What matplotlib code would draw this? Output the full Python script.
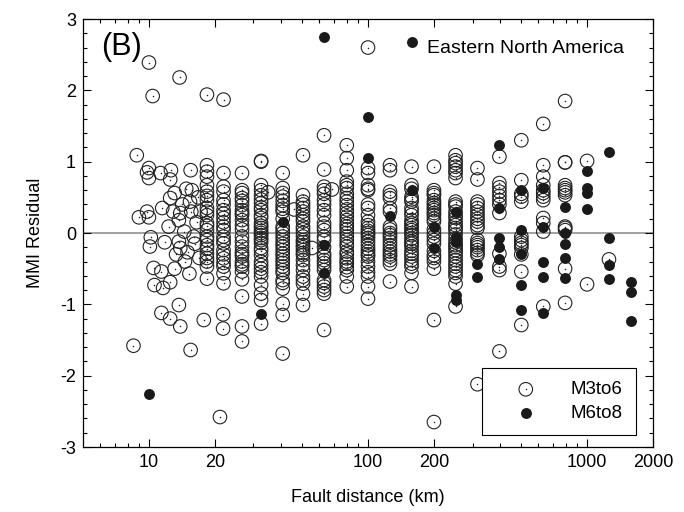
import matplotlib
matplotlib.use("Agg")
import matplotlib.pyplot as plt
from matplotlib.ticker import FixedLocator, NullFormatter, MultipleLocator
from matplotlib.legend_handler import HandlerTuple

plt.rcParams['font.family'] = ['Liberation Sans', 'DejaVu Sans']
plt.rcParams['axes.unicode_minus'] = False

# --- M3to6, near field (scattered distances) ---
nf_dist = [8.8, 8.5, 10.0, 10.4, 13.8, 18.4, 21.9, 10.0, 9.8, 10.0, 11.3, 12.6, 12.5,
           15.5, 9.0, 9.8, 10.0, 11.5, 12.5, 13.1, 12.3, 13.9, 13.7, 15.4, 15.6, 15.7,
           10.2, 10.1, 11.8, 13.7, 13.9, 16.0, 10.5, 11.4, 10.6, 11.6, 12.5, 13.1, 15.3,
           15.0, 11.4, 12.5, 13.7, 13.9, 15.5, 17.8, 21.1, 21.8, 21.8, 14.5, 16.5, 17.0,
           14.2, 14.8, 16.8, 12.9, 14.6, 16.2, 13.3, 17.2, 35.0, 68.5, 46.0, 55.5]
nf_res = [1.09, -1.58, 2.39, 1.92, 2.18, 1.94, 1.87, 0.91, 0.85, 0.77, 0.84, 0.88, 0.75,
          0.88, 0.22, 0.30, 0.22, 0.35, 0.49, 0.56, 0.09, 0.28, 0.18, 0.44, 0.30, 0.60,
          -0.06, -0.19, -0.13, -0.12, -0.21, -0.05, -0.49, -0.54, -0.73, -0.77, -0.69, -0.50, -0.57,
          -0.27, -1.12, -1.20, -1.01, -1.31, -1.64, -1.22, -2.58, -1.14, -1.34, 0.02, 0.15, -0.35,
          0.40, 0.62, 0.50, 0.30, -0.40, -0.15, -0.30, 0.30, 0.57, 0.61, 0.33, -0.21]

# --- M3to6, binned distances ---
bin_dist = [18.4, 21.9, 26.6, 32.5, 40.8, 50.5, 63, 80, 100, 126, 158, 200, 251,
            316, 398, 501, 631, 794, 1000, 1259]
m36_bins = [
    [0.95, 0.86, 0.79, 0.67, 0.58, 0.52, 0.46, 0.35, 0.30, 0.25, 0.14, 0.10, 0.04, -0.05, -0.10,
     -0.17, -0.22, -0.29, -0.35, -0.40, -0.47, -0.64],
    [0.84, 0.65, 0.58, 0.46, 0.40, 0.32, 0.27, 0.21, 0.15, 0.09, 0.04, -0.05, -0.10, -0.145, -0.24,
     -0.30, -0.355, -0.42, -0.47, -0.565, -0.705],
    [0.84, 0.60, 0.56, 0.49, 0.45, 0.39, 0.32, 0.28, 0.25, 0.18, 0.11, 0.05, -0.05, -0.12, -0.19,
     -0.26, -0.30, -0.33, -0.40, -0.44, -0.47, -0.54, -0.65, -0.89, -1.31, -1.52],
    [1.00, 1.01, 0.67, 0.60, 0.53, 0.47, 0.42, 0.36, 0.32, 0.25, 0.21, 0.14, 0.10, 0.07, 0.03, 0.00,
     -0.03, -0.07, -0.10, -0.14, -0.21, -0.25, -0.31, -0.40, -0.45, -0.50, -0.55, -0.61, -0.73,
     -0.85, -0.94, -1.27],
    [0.84, 0.63, 0.56, 0.51, 0.45, 0.39, 0.34, 0.30, 0.20, 0.09, 0.05, 0.00, -0.05, -0.10, -0.15,
     -0.19, -0.24, -0.29, -0.33, -0.38, -0.42, -0.47, -0.52, -0.56, -0.66, -0.70, -0.78, -0.99,
     -1.15, -1.69],
    [1.09, 0.53, 0.44, 0.40, 0.35, 0.30, 0.25, 0.20, 0.16, 0.09, 0.05, 0.00, -0.05, -0.10, -0.13,
     -0.17, -0.20, -0.24, -0.28, -0.31, -0.38, -0.45, -0.52, -0.61, -0.66, -0.71, -0.85, -1.01],
    [1.37, 0.89, 0.65, 0.60, 0.55, 0.46, 0.40, 0.32, 0.25, 0.14, 0.09, 0.04, -0.05, -0.10, -0.20,
     -0.29, -0.33, -0.38, -0.42, -0.47, -0.52, -0.66, -0.70, -0.75, -0.80, -0.85, -1.36],
    [1.23, 1.05, 0.88, 0.72, 0.67, 0.63, 0.55, 0.49, 0.44, 0.39, 0.33, 0.28, 0.23, 0.18, 0.13,
     0.09, 0.05, 0.00, -0.05, -0.10, -0.15, -0.19, -0.26, -0.30, -0.355, -0.40, -0.43, -0.48,
     -0.52, -0.61, -0.75],
    [2.60, 0.91, 0.84, 0.67, 0.62, 0.60, 0.40, 0.35, 0.25, 0.16, 0.11, 0.07, 0.03, 0.00, -0.03,
     -0.07, -0.12, -0.17, -0.22, -0.26, -0.30, -0.33, -0.40, -0.47, -0.55, -0.61, -0.75, -0.92],
    [0.95, 0.88, 0.58, 0.53, 0.49, 0.35, 0.30, 0.09, 0.05, 0.00, -0.03, -0.07, -0.12, -0.17,
     -0.22, -0.26, -0.30, -0.33, -0.38, -0.43, -0.68],
    [0.93, 0.67, 0.62, 0.51, 0.47, 0.44, 0.35, 0.30, 0.25, 0.18, 0.14, 0.11, 0.07, 0.04, 0.00,
     -0.03, -0.08, -0.12, -0.15, -0.19, -0.25, -0.29, -0.33, -0.38, -0.43, -0.47, -0.56, -0.75],
    [0.93, 0.60, 0.56, 0.53, 0.46, 0.42, 0.39, 0.35, 0.32, 0.28, 0.25, 0.20, 0.16, 0.05, 0.00,
     -0.05, -0.10, -0.15, -0.25, -0.31, -0.35, -0.40, -0.50, -1.22, -2.65],
    [1.09, 1.02, 0.98, 0.93, 0.88, 0.84, 0.77, 0.44, 0.40, 0.37, 0.30, 0.25, 0.21, 0.15, 0.11,
     0.07, 0.04, -0.02, -0.08, -0.13, -0.17, -0.20, -0.24, -0.28, -0.33, -0.38, -0.43, -0.47,
     -0.52, -0.56, -0.61, -0.71, -1.03],
    [0.91, 0.75, 0.44, 0.40, 0.35, 0.30, 0.25, 0.20, 0.16, 0.11, 0.07, -0.10, -0.14, -0.17,
     -0.20, -0.24, -0.28, -0.31, -2.12],
    [1.07, 0.70, 0.64, 0.58, 0.52, 0.46, 0.40, 0.28, -0.29, -0.47, -0.52, -1.66],
    [1.30, 0.74, 0.55, 0.51, 0.44, -0.05, -0.10, -0.14, -0.17, -0.21, -0.30, -0.54, -1.29],
    [1.53, 0.95, 0.79, 0.67, 0.60, 0.56, 0.51, 0.46, 0.21, 0.14, 0.02, -1.03],
    [1.85, 0.99, 0.99, 0.67, 0.63, 0.60, 0.57, 0.53, 0.09, 0.07, 0.04, -0.50, -0.98],
    [1.01, -0.72],
    [-0.37],
]

# --- M6to8 ---
m68_dist = [10, 32.5, 40.8, 63, 63, 63, 100, 100, 126, 158, 158, 200, 200,
            251, 251, 251, 251, 251, 316, 316, 398, 398, 398, 398, 398,
            501, 501, 501, 501, 501, 631, 631, 631, 631, 631,
            794, 794, 794, 794, 794, 1000, 1000, 1000, 1000,
            1259, 1259, 1259, 1259, 1585, 1585, 1585]
m68_res = [-2.25, -1.13, 0.16, 2.75, -0.17, -0.56, 1.63, 1.05, 0.24, 2.68, 0.60, 0.09, -0.21,
           0.30, -0.05, -0.12, -0.87, -0.94, -0.43, -0.61, 1.23, 0.35, -0.07, -0.19, -0.36,
           0.60, 0.04, -0.29, -0.73, -1.08, 0.63, 0.09, -0.40, -0.61, -1.12,
           0.36, 0.00, -0.15, -0.35, -0.63, 0.87, 0.63, 0.56, 0.33,
           1.13, -0.07, -0.45, -0.64, -0.68, -0.83, -1.23]

m36_dist = nf_dist + [d for d, col in zip(bin_dist, m36_bins) for _ in col]
m36_res = nf_res + [v for col in m36_bins for v in col]

fig = plt.figure(figsize=(6.84, 5.12), dpi=100)
ax = fig.add_axes([83 / 684, 1 - 447 / 512, 570 / 684, 428 / 512])

ax.axhline(0, color='#a0a0a0', lw=1.4, zorder=1)

op = ax.scatter(m36_dist, m36_res, s=95, facecolors='none', edgecolors='#222222',
                linewidths=0.8, zorder=2)
dot = ax.scatter(m36_dist, m36_res, s=1.2, c='#222222', linewidths=0, zorder=2)
fl = ax.scatter(m68_dist, m68_res, s=62, c='#1a1a1a', linewidths=0, zorder=3)

ax.set_xscale('log')
ax.set_xlim(5, 2000)
ax.set_ylim(-3, 3)

ax.xaxis.set_major_locator(FixedLocator([10, 20, 100, 200, 1000, 2000]))
ax.xaxis.set_major_formatter(plt.FuncFormatter(lambda v, p: '%d' % v))
minors = [6, 7, 8, 9, 30, 40, 50, 60, 70, 80, 90, 300, 400, 500, 600, 700, 800, 900]
ax.xaxis.set_minor_locator(FixedLocator(minors))
ax.xaxis.set_minor_formatter(NullFormatter())
ax.yaxis.set_major_locator(MultipleLocator(1))
ax.yaxis.set_minor_locator(MultipleLocator(0.2))

ax.tick_params(which='both', direction='in', top=True, right=True, width=0.8)
ax.tick_params(which='major', length=6, labelsize=13, pad=5)
ax.tick_params(which='minor', length=3)
for s in ax.spines.values():
    s.set_linewidth(0.9)

ax.set_xlabel('Fault distance (km)', fontsize=13, labelpad=13)
ax.set_ylabel('MMI Residual', fontsize=13, labelpad=12)

ax.text(0.032, 0.935, '(B)', transform=ax.transAxes, fontsize=22, va='center', ha='left')
ax.text(0.6035, 0.932, 'Eastern North America', transform=ax.transAxes, fontsize=14,
        va='center', ha='left')

leg = ax.legend([(op, dot), fl], ['M3to6', 'M6to8'], loc='lower right',
                bbox_to_anchor=(0.97, 0.028), borderaxespad=0, fontsize=13.5,
                handler_map={tuple: HandlerTuple(ndivide=1)},
                fancybox=False, edgecolor='black', framealpha=1,
                handlelength=3.3, handletextpad=0.75, borderpad=0.7, labelspacing=0.35)
leg.get_frame().set_linewidth(0.8)

fig.savefig('out.png', dpi=100)
